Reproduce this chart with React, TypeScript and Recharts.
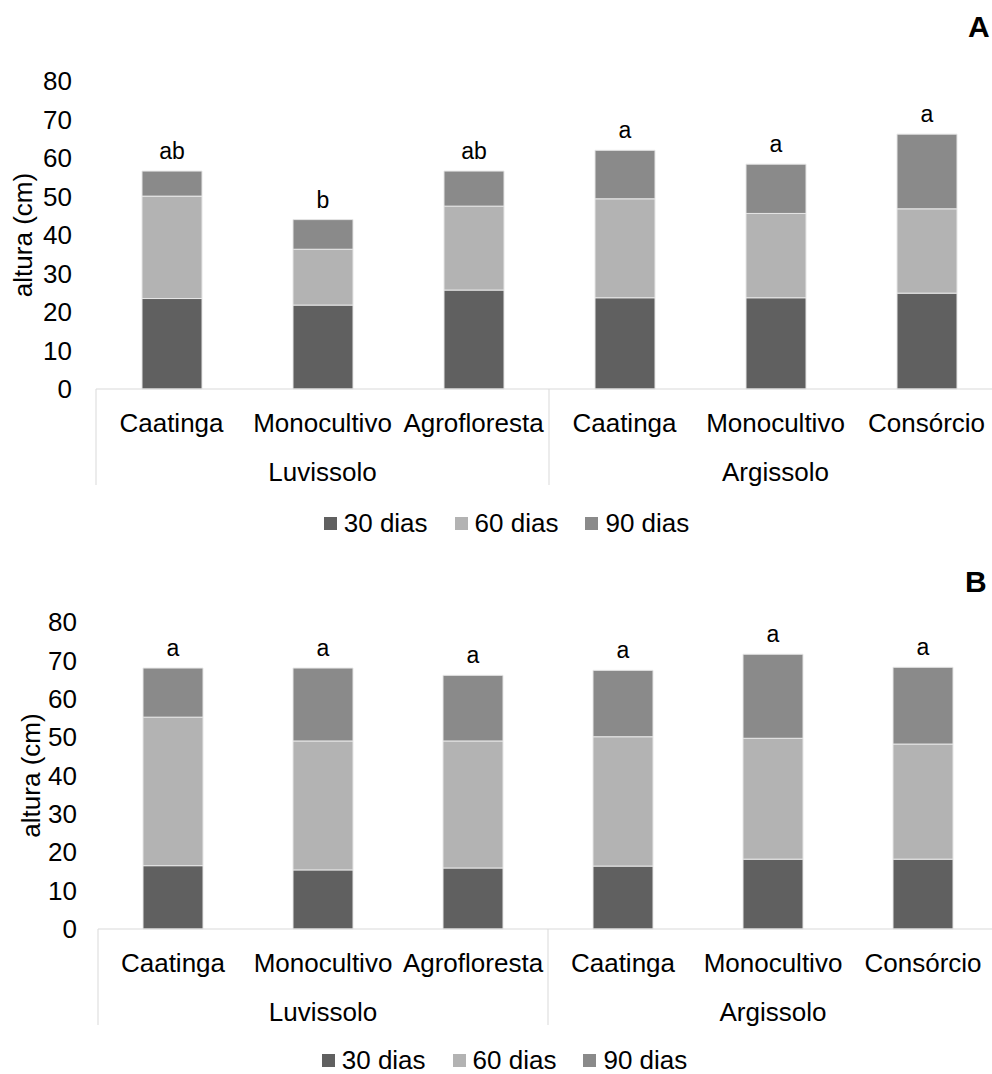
import React from 'react';
import { BarChart, Bar, XAxis, YAxis, Legend, LabelList } from 'recharts';

const categorias = ['Caatinga', 'Monocultivo', 'Agrofloresta', 'Caatinga', 'Monocultivo', 'Consórcio'];
const grupos = ['Luvissolo', 'Luvissolo', 'Luvissolo', 'Argissolo', 'Argissolo', 'Argissolo'];
const series = ['30 dias', '60 dias', '90 dias'];
const yTicks = [0, 10, 20, 30, 40, 50, 60, 70, 80];

// painel A
const a30 = [23.5, 21.8, 25.7, 23.7, 23.7, 24.9];
const a60 = [26.6, 14.5, 21.8, 25.7, 21.9, 21.9];
const a90 = [6.5, 7.7, 9.1, 12.6, 12.8, 19.4];
const aLetras = ['ab', 'b', 'ab', 'a', 'a', 'a'];

// painel B
const b30 = [16.5, 15.4, 15.9, 16.4, 18.2, 18.2];
const b60 = [38.7, 33.6, 33.1, 33.7, 31.5, 30.0];
const b90 = [12.8, 19.0, 17.1, 17.3, 21.9, 20.0];
const bLetras = ['a', 'a', 'a', 'a', 'a', 'a'];

const colors = ['#606060', '#b3b3b3', '#8a8a8a'];
const FONT = 'Arial, "Liberation Sans", sans-serif';
const CHART_W = 1010;
const CHART_H = 540;

const build = (v30: number[], v60: number[], v90: number[], letras: string[]) =>
  categorias.map((c, i) => ({
    key: String(i),
    cat: c,
    grupo: grupos[i],
    d30: v30[i],
    d60: v60[i],
    d90: v90[i],
    letra: letras[i],
  }));

const CatTick = (props: any) => {
  const { x, y, payload, bw } = props;
  const i = payload.index;
  const lines = [];
  if (i % 3 === 0) {
    lines.push(<line key="l" x1={x - bw / 2} x2={x - bw / 2} y1={y} y2={y + 96} stroke="#d9d9d9" />);
  }
  if (i === categorias.length - 1) {
    lines.push(<line key="r" x1={x + bw / 2} x2={x + bw / 2} y1={y} y2={y + 96} stroke="#d9d9d9" />);
  }
  return (
    <g>
      {lines}
      <text x={x} y={y + 43} textAnchor="middle" fontSize={26} fill="#000" fontFamily={FONT}>
        {categorias[i]}
      </text>
      {i % 3 === 1 && (
        <text x={x} y={y + 92} textAnchor="middle" fontSize={26} fill="#000" fontFamily={FONT}>
          {grupos[i]}
        </text>
      )}
    </g>
  );
};

const LegendBox = (props: any) => {
  const { payload, shift } = props;
  return (
    <div style={{ position: 'relative', top: shift || 0, display: 'flex', justifyContent: 'center', alignItems: 'center', height: 24, lineHeight: '22px', paddingLeft: 38, fontSize: 26, color: '#000', fontFamily: FONT }}>
      {(payload || []).map((p: any) => (
        <span key={p.value} style={{ display: 'flex', alignItems: 'center', marginRight: 27, height: 22 }}>
          <span style={{ display: 'inline-block', width: 13, height: 13, background: p.color, marginRight: 7 }} />
          {p.value}
        </span>
      ))}
    </div>
  );
};

interface PainelProps {
  data: any[];
  yw: number;
  mTop: number;
  mRight: number;
  tickGap: number;
  labelX: number;
  letra: string;
  letraX: number;
  letraY: number;
  legShift: number;
}

const Painel: React.FC<PainelProps> = ({ data, yw, mTop, mRight, tickGap, labelX, letra, letraX, letraY, legShift }) => {
  const bw = (CHART_W - yw - mRight) / categorias.length;
  return (
    <div style={{ position: 'relative', width: CHART_W, height: CHART_H }}>
      <BarChart width={CHART_W} height={CHART_H} data={data} margin={{ top: mTop, right: mRight, left: 0, bottom: 5 }}>
        <XAxis
          dataKey="key"
          interval={0}
          tickLine={false}
          tickSize={0}
          tickMargin={0}
          height={122}
          axisLine={{ stroke: '#d9d9d9' }}
          tick={(p: any) => <CatTick {...p} bw={bw} />}
        />
        <YAxis
          width={yw}
          domain={[0, 80]}
          ticks={yTicks}
          axisLine={false}
          tickLine={false}
          tickMargin={tickGap}
          tick={{ fontSize: 26, fill: '#000', fontFamily: FONT }}
          label={(p: any) => {
            const vb = p.viewBox || { y: mTop, height: 308 };
            const cy = vb.y + vb.height / 2;
            return (
              <text x={labelX} y={cy} dy="0.35em" textAnchor="middle" fontSize={26} fill="#000" fontFamily={FONT} transform={`rotate(-90, ${labelX}, ${cy})`}>
                altura (cm)
              </text>
            );
          }}
        />
        <Legend verticalAlign="bottom" content={<LegendBox shift={legShift} />} />
        <Bar dataKey="d30" name={series[0]} stackId="s" fill={colors[0]} stroke="#e6e6e6" strokeWidth={1} barSize={60} isAnimationActive={false} />
        <Bar dataKey="d60" name={series[1]} stackId="s" fill={colors[1]} stroke="#e6e6e6" strokeWidth={1} barSize={60} isAnimationActive={false} />
        <Bar dataKey="d90" name={series[2]} stackId="s" fill={colors[2]} stroke="#e6e6e6" strokeWidth={1} barSize={60} isAnimationActive={false}>
          <LabelList dataKey="letra" position="top" offset={12} fontSize={23} fill="#000" fontFamily={FONT} />
        </Bar>
      </BarChart>
      <div style={{ position: 'absolute', left: letraX, top: letraY, fontSize: 30, fontWeight: 'bold', fontFamily: FONT, lineHeight: '30px', color: '#000' }}>
        {letra}
      </div>
    </div>
  );
};

export default function App() {
  const dadosA = build(a30, a60, a90, aLetras);
  const dadosB = build(b30, b60, b90, bLetras);
  return (
    <div style={{ position: 'absolute', left: 0, top: 0, width: 992, height: 1074, overflow: 'hidden', background: '#fff', fontFamily: FONT }}>
      <div style={{ position: 'absolute', left: 0, top: 0 }}>
        <Painel data={dadosA} yw={96} mTop={81} mRight={8} tickGap={18} labelX={23} letra="A" letraX={968} letraY={12} legShift={0} />
      </div>
      <div style={{ position: 'absolute', left: 0, top: 540 }}>
        <Painel data={dadosB} yw={98} mTop={82} mRight={12} tickGap={15} labelX={31} letra="B" letraX={965} letraY={27} legShift={-3} />
      </div>
    </div>
  );
}
